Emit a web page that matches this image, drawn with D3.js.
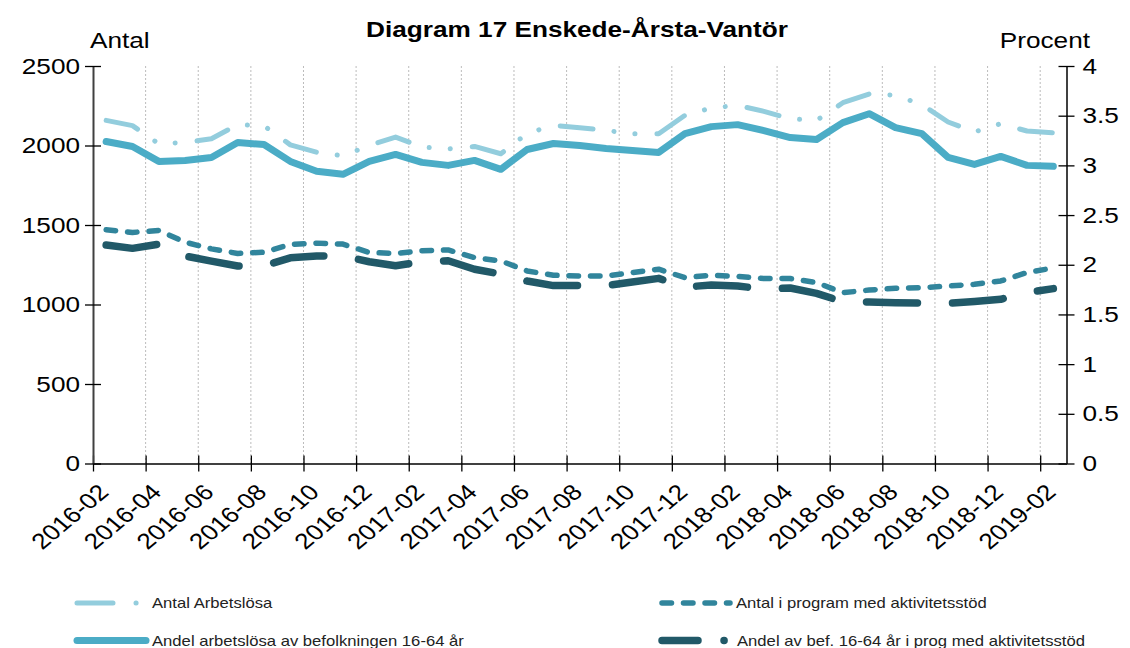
<!DOCTYPE html>
<html lang="sv">
<head>
<meta charset="utf-8">
<title>Diagram 17 Enskede-Årsta-Vantör</title>
<style>
  body { margin: 0; background: #fff; }
  svg { display: block; font-family: Arial, "Liberation Sans", sans-serif; }
</style>
</head>
<body>
<svg width="1130" height="648"></svg>
<script src="https://d3js.org/d3.v7.min.js"></script>
<script>
// months (categories)
var months = ["2016-02","2016-03","2016-04","2016-05","2016-06","2016-07","2016-08","2016-09",
  "2016-10","2016-11","2016-12","2017-01","2017-02","2017-03","2017-04","2017-05","2017-06",
  "2017-07","2017-08","2017-09","2017-10","2017-11","2017-12","2018-01","2018-02","2018-03",
  "2018-04","2018-05","2018-06","2018-07","2018-08","2018-09","2018-10","2018-11","2018-12",
  "2019-01","2019-02"];

// left axis (Antal)
var antalArbetslosa = [2158, 2125, 2011, 2019, 2042, 2131, 2124, 2004, 1958, 1935, 2000, 2053, 1990,
  1979, 1994, 1948, 2076, 2127, 2112, 2095, 2074, 2074, 2190, 2236, 2252, 2215, 2168, 2158, 2269,
  2324, 2316, 2257, 2148, 2085, 2137, 2091, 2080];
var antalProgram = [1470, 1453, 1466, 1392, 1350, 1321, 1329, 1378, 1386, 1380, 1327, 1321, 1338,
  1343, 1295, 1274, 1211, 1184, 1179, 1179, 1201, 1222, 1169, 1184, 1177, 1163, 1163, 1138, 1074,
  1091, 1102, 1106, 1116, 1127, 1148, 1201, 1230];

// right axis (Procent)
var andelArbetslosa = [3.24, 3.19, 3.04, 3.05, 3.08, 3.23, 3.21, 3.04, 2.94, 2.91, 3.04, 3.11, 3.03,
  3.00, 3.05, 2.96, 3.16, 3.22, 3.20, 3.17, 3.15, 3.13, 3.32, 3.39, 3.41, 3.35, 3.28, 3.26, 3.43,
  3.52, 3.38, 3.32, 3.08, 3.01, 3.09, 3.00, 2.99];
var andelProgram = [2.198, 2.165, 2.208, 2.088, 2.037, 1.987, 1.99, 2.07, 2.087, 2.09, 2.03, 1.99,
  2.03, 2.04, 1.955, 1.906, 1.836, 1.79, 1.79, 1.79, 1.826, 1.863, 1.776, 1.796, 1.786, 1.756,
  1.766, 1.712, 1.628, 1.625, 1.618, 1.615, 1.612, 1.63, 1.652, 1.72, 1.76];

var leftTicks = [0, 500, 1000, 1500, 2000, 2500];
var rightTicks = [0, 0.5, 1, 1.5, 2, 2.5, 3, 3.5, 4];

var SX = 1.19; // text in the original is a bit wide

var svg = d3.select("svg"),
    margin = {top: 66, right: 63.5, bottom: 184.5, left: 93},
    width = +svg.attr("width") - margin.left - margin.right,
    height = +svg.attr("height") - margin.top - margin.bottom;

var x = d3.scaleBand().domain(months).range([0, width]),
    xEdge = d3.scaleLinear().domain([0, months.length]).range([0, width]),
    y = d3.scaleLinear().domain([0, 2500]).range([height, 0]),
    yPct = d3.scaleLinear().domain([0, 4]).range([height, 0]);

var g = svg.append("g")
  .attr("transform", "translate(" + margin.left + "," + margin.top + ")");

var edges = d3.range(0, months.length, 2);

// vertical gridlines
g.append("g").selectAll("line")
  .data(edges.slice(1))
  .enter().append("line")
  .attr("x1", function(d) { return xEdge(d); })
  .attr("x2", function(d) { return xEdge(d); })
  .attr("y1", 0).attr("y2", height)
  .attr("stroke", "#bcbcbc").attr("stroke-width", 1)
  .attr("stroke-dasharray", "2,2");

// x axis ticks
var xAxis = g.append("g")
  .attr("transform", "translate(0," + height + ")")
  .call(d3.axisBottom(xEdge).tickValues(edges).tickSizeOuter(0).tickFormat(""));
xAxis.selectAll(".tick line").attr("y1", -8).attr("y2", 8).attr("stroke", "#000").attr("stroke-width", 1.3);

// x labels
var xLab = g.append("g")
  .attr("transform", "translate(0," + height + ")")
  .call(d3.axisBottom(x).tickValues(months.filter(function(m, i) { return i % 2 === 0; })).tickSize(0));
xLab.select(".domain").remove();
xLab.selectAll("text")
  .attr("x", 0).attr("y", 0).attr("dy", 0)
  .attr("text-anchor", "end")
  .attr("transform", "translate(4,30) scale(" + SX + ",1) rotate(-45)")
  .style("font-size", "22px").attr("fill", "#000");

// left axis
var yAxis = g.append("g")
  .call(d3.axisLeft(y).tickValues(leftTicks).tickSize(8).tickSizeOuter(0).tickFormat(d3.format("d")));
yAxis.selectAll(".tick line").attr("x1", 8).attr("stroke", "#000").attr("stroke-width", 1.3);
yAxis.selectAll("text")
  .attr("x", -13 / SX)
  .attr("transform", "scale(" + SX + ",1)")
  .style("font-size", "22px").attr("fill", "#000");

// right axis
var yAxisR = g.append("g")
  .attr("transform", "translate(" + width + ",0)")
  .call(d3.axisRight(yPct).tickValues(rightTicks).tickSize(8).tickSizeOuter(0)
    .tickFormat(function(d) { return String(d); }));
yAxisR.selectAll(".tick line").attr("x1", -8).attr("stroke", "#000").attr("stroke-width", 1.3);
yAxisR.selectAll("text")
  .attr("x", 16 / SX)
  .attr("transform", "scale(" + SX + ",1)")
  .style("font-size", "22px").attr("fill", "#000");

g.selectAll(".domain").attr("stroke", "#404040").attr("stroke-width", 2);

// lines
var cx = function(d, i) { return x(months[i]) + x.bandwidth() / 2; };
var lineL = d3.line().x(cx).y(function(d) { return y(d); });
var lineR = d3.line().x(cx).y(function(d) { return yPct(d); });

var series = [
  {name: "Antal Arbetslösa", data: antalArbetslosa, line: lineL, color: "#93cddd", w: 5, dash: "33,21,0.1,21,0.1,22", leg: "36,23,0.1,50"},
  {name: "Antal i program med aktivitetsstöd", data: antalProgram, line: lineL, color: "#31859c", w: 5.5, dash: "9.5,12", leg: "9.5,12"},
  {name: "Andel arbetslösa av befolkningen 16-64 år", data: andelArbetslosa, line: lineR, color: "#4bacc6", w: 7, dash: null, leg: null},
  {name: "Andel av bef. 16-64 år i prog med aktivitetsstöd", data: andelProgram, line: lineR, color: "#215968", w: 7.5, dash: "51,35", leg: "36,26,0.1,40"}
];

series.forEach(function(s) {
  g.append("path")
    .datum(s.data)
    .attr("fill", "none")
    .attr("stroke", s.color)
    .attr("stroke-width", s.w)
    .attr("stroke-linecap", "round")
    .attr("stroke-linejoin", "round")
    .attr("stroke-dasharray", s.dash)
    .attr("d", s.line);
});

// titles
svg.append("text")
  .attr("transform", "translate(577,37) scale(" + SX + ",1)")
  .attr("text-anchor", "middle")
  .style("font-size", "22px").style("font-weight", "bold")
  .text("Diagram 17 Enskede-Årsta-Vantör");
svg.append("text")
  .attr("transform", "translate(90,48) scale(" + SX + ",1)")
  .style("font-size", "22px")
  .text("Antal");
svg.append("text")
  .attr("transform", "translate(1090,48) scale(" + SX + ",1)")
  .attr("text-anchor", "end")
  .style("font-size", "22px")
  .text("Procent");

// legend
var legPos = [
  {x0: 77, x1: 140, tx: 152, y: 603},
  {x0: 662, x1: 730, tx: 736, y: 603},
  {x0: 77, x1: 146, tx: 152, y: 640.5},
  {x0: 662, x1: 728, tx: 737, y: 640.5}
];
series.forEach(function(s, i) {
  var p = legPos[i];
  svg.append("line")
    .attr("x1", p.x0).attr("x2", p.x1).attr("y1", p.y).attr("y2", p.y)
    .attr("stroke", s.color).attr("stroke-width", s.w)
    .attr("stroke-linecap", "round")
    .attr("stroke-dasharray", s.leg);
  svg.append("text")
    .attr("transform", "translate(" + p.tx + "," + (p.y + 5) + ") scale(" + SX + ",1)")
    .style("font-size", "14px").attr("fill", "#222")
    .text(s.name);
});
</script>
</body>
</html>
